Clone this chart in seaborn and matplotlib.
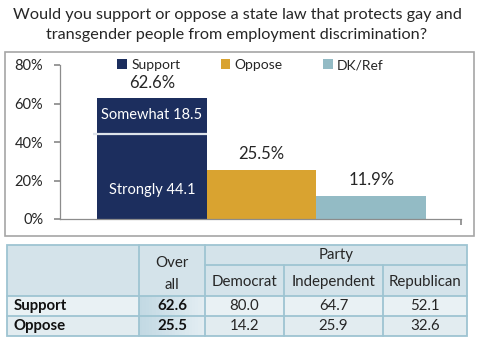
import matplotlib
matplotlib.use("Agg")
import matplotlib.pyplot as plt
from matplotlib.patches import Rectangle, Patch
import pandas as pd
import seaborn as sns

# Overall response
responses = ["Support", "Oppose", "DK/Ref"]
overall = [62.6, 25.5, 11.9]
support_strongly = 44.1
support_somewhat = 18.5
colors = ["#1c2e5e", "#d9a330", "#93bbc5"]

# Party breakdown table
table_rows = ["Support", "Oppose"]
party_cols = ["Democrat", "Independent", "Republican"]
overall_col = ["62.6", "25.5"]
party_vals = [["80.0", "64.7", "52.1"],
              ["14.2", "25.9", "32.6"]]

title = ("Would you support or oppose a state law that protects gay and\n"
         "transgender people from employment discrimination?")

sns.set_theme(style="white")
plt.rcParams["font.family"] = ["Lato", "DejaVu Sans"]

W, H = 480, 341
fig = plt.figure(figsize=(W / 100, H / 100), dpi=100)

# overlay in pixel coordinates for frame, title and table
ov = fig.add_axes([0, 0, 1, 1], zorder=0)
ov.set_xlim(0, W)
ov.set_ylim(H, 0)
ov.axis("off")

ov.text(237, 25, title, ha="center", va="center", fontsize=11.7,
        color="#262626", linespacing=1.5)
ov.add_patch(Rectangle((5, 52), 469, 184, fill=False, ec="#a6a6a6", lw=1.2))

# bar chart
ax = fig.add_axes([60 / W, (H - 219) / H, (461 - 60) / W, (219 - 65) / H], zorder=2)
ax.patch.set_alpha(0)
df = pd.DataFrame({"response": responses, "pct": overall})
sns.barplot(data=df, x="response", y="pct", hue="response", palette=colors,
            width=1.0, dodge=False, legend=False, ax=ax, saturation=1, linewidth=0)
ax.set_xlim(-0.5 - 37 / 110, 2.5 + 35 / 110)
ax.set_ylim(0, 80)
ax.set_yticks([0, 20, 40, 60, 80])
ax.set_yticklabels([f"{v}%" for v in [0, 20, 40, 60, 80]], fontsize=10.5, color="#262626")
ax.set_xticks([ax.get_xlim()[1]])
ax.set_xticklabels([""])
ax.set_xlabel("")
ax.set_ylabel("")
for s in ["top", "right"]:
    ax.spines[s].set_visible(False)
for s in ["left", "bottom"]:
    ax.spines[s].set_color("#8c8c8c")
    ax.spines[s].set_linewidth(0.9)
ax.tick_params(axis="y", length=4, color="#8c8c8c", direction="out", pad=8, left=True)
ax.tick_params(axis="x", length=4, color="#8c8c8c", direction="out", bottom=True)

# divider between Strongly and Somewhat inside the Support bar
sup = ax.patches[0]
x0 = sup.get_x()
x1 = x0 + sup.get_width()
ax.plot([x0 - 0.04, x1], [support_strongly, support_strongly], color="#dde3ea", lw=1.6,
        solid_capstyle="butt", zorder=5)
xc = x0 + sup.get_width() / 2
ax.text(xc, support_strongly / 2 - 7, f"Strongly {support_strongly}", ha="center", va="center",
        color="white", fontsize=10.5)
ax.text(xc, support_strongly + support_somewhat / 2 + 0.5, f"Somewhat {support_somewhat}",
        ha="center", va="center", color="white", fontsize=10.5)

for i, v in enumerate(overall):
    ax.text(i, v + 4, f"{v}%", ha="center", va="bottom", fontsize=12, color="#262626")

handles = [Patch(facecolor=c, edgecolor="none") for c in colors]
leg = ax.legend(handles, responses, loc="center", bbox_to_anchor=(0.475, 1.0), ncol=3,
                frameon=False, fontsize=10, handlelength=0.7, handleheight=0.7,
                handletextpad=0.3, columnspacing=2.9)
for t in leg.get_texts():
    t.set_color("#262626")

# table
tx0, tx1 = 7, 467
ty0, ty1 = 245, 336
col_x = [tx0, 139, 205, 284, 383, tx1]
row_y = [ty0, 265, 296, 316, ty1]
hdr_bg = "#d4e3ea"
row_bg = ["#e9f1f4", "#e2ecf0"]
line_c = "#9ec4d2"

ov.add_patch(Rectangle((tx0, ty0), tx1 - tx0, row_y[2] - ty0, fc=hdr_bg, ec="none"))
for r in range(2):
    ov.add_patch(Rectangle((tx0, row_y[2 + r]), tx1 - tx0, row_y[3 + r] - row_y[2 + r],
                           fc=row_bg[r], ec="none"))
    # overall column cells shaded darker on the left
    n = 20
    cw = (col_x[2] - col_x[1]) / n
    for k in range(n):
        f = k / (n - 1)
        c0 = (0.76, 0.85, 0.89)
        c1 = (0.89, 0.93, 0.95)
        col = tuple(a + (b - a) * f for a, b in zip(c0, c1))
        ov.add_patch(Rectangle((col_x[1] + k * cw, row_y[2 + r]), cw + 0.3,
                               row_y[3 + r] - row_y[2 + r], fc=col, ec="none"))

lw = 1.3
ov.add_patch(Rectangle((tx0, ty0), tx1 - tx0, ty1 - ty0, fill=False, ec=line_c, lw=lw))
for x in col_x[1:2]:
    ov.plot([x, x], [ty0, ty1], color=line_c, lw=lw)
ov.plot([col_x[2], col_x[2]], [ty0, ty1], color=line_c, lw=lw)
for x in col_x[3:5]:
    ov.plot([x, x], [row_y[1], ty1], color=line_c, lw=lw)
ov.plot([col_x[2], tx1], [row_y[1], row_y[1]], color=line_c, lw=lw)
for y in row_y[2:4]:
    ov.plot([tx0, tx1], [y, y], color=line_c, lw=lw)

tc = "#262626"
fs = 10.8
ov.text((col_x[1] + col_x[2]) / 2, 274, "Over\nall", ha="center", va="center",
        fontsize=fs, color=tc, linespacing=1.8)
ov.text((col_x[2] + tx1) / 2, 255, "Party", ha="center", va="center", fontsize=fs, color=tc)
for j, name in enumerate(party_cols):
    ov.text((col_x[2 + j] + col_x[3 + j]) / 2, 282, name, ha="center", va="center",
            fontsize=fs, color=tc)
for r in range(2):
    yc = (row_y[2 + r] + row_y[3 + r]) / 2
    ov.text(14, yc, table_rows[r], ha="left", va="center", fontsize=fs,
            fontweight="bold", color="#111111")
    ov.text((col_x[1] + col_x[2]) / 2, yc, overall_col[r], ha="center", va="center",
            fontsize=fs, fontweight="bold", color="#111111")
    for j in range(3):
        ov.text((col_x[2 + j] + col_x[3 + j]) / 2, yc, party_vals[r][j], ha="center",
                va="center", fontsize=fs, color=tc)

fig.savefig("out.png", dpi=100)
